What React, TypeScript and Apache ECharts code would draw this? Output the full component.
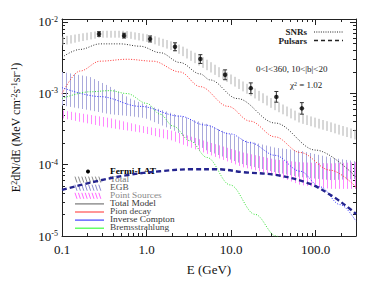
import React, { useEffect, useRef } from "react";
import * as echarts from "echarts";

// ---- Data (E in GeV, E^2 dN/dE in MeV cm^-2 s^-1 sr^-1) ----
const fermiE = [0.274, 0.542, 1.1, 2.17, 4.33, 8.49, 17.1, 34.3, 68.7];
const fermiFlux = [6.78e-3, 6.43e-3, 5.78e-3, 4.49e-3, 3.02e-3, 1.82e-3, 1.18e-3, 8.9e-4, 6.15e-4];
const fermiLo = [6.3e-3, 5.95e-3, 5.25e-3, 3.95e-3, 2.62e-3, 1.55e-3, 9.9e-4, 7.5e-4, 5.1e-4];
const fermiHi = [7.3e-3, 6.95e-3, 6.35e-3, 5.1e-3, 3.48e-3, 2.13e-3, 1.4e-3, 1.06e-3, 7.4e-4];

const totalModelE = [0.1, 0.163, 0.282, 0.486, 0.838, 1.45, 2.49, 4.3, 5.64, 11.8, 33.2, 100, 300];
const totalModelFlux = [3.2e-3, 4.12e-3, 4.93e-3, 4.93e-3, 4.57e-3, 3.71e-3, 2.7e-3, 1.87e-3, 1.54e-3, 8.45e-4, 3.83e-4, 1.6e-4, 6.7e-5];

const pionE = [0.1, 0.163, 0.282, 0.588, 1.19, 2.49, 4.3, 9.21, 16.8, 33.2, 65.6, 149, 300];
const pionFlux = [9.9e-4, 2.05e-3, 2.82e-3, 3.0e-3, 2.82e-3, 1.99e-3, 1.24e-3, 6.56e-4, 4.07e-4, 2.45e-4, 1.48e-4, 8.36e-5, 4.88e-5];

const icE = [0.1, 0.282, 0.838, 2.49, 4.92, 9.73, 16.8, 33.2, 65.6, 113, 195, 300];
const icFlux = [1.2e-3, 8.99e-4, 6.56e-4, 4.78e-4, 3.59e-4, 2.7e-4, 2.03e-4, 1.35e-4, 8.09e-5, 4.88e-5, 2.75e-5, 1.61e-5];

const bremsE = [0.1, 0.214, 0.37, 0.588, 1.01, 1.45, 2.06, 3.27, 5.2, 9.73, 19.2, 34.1, 49.9];
const bremsFlux = [8.45e-4, 1.05e-3, 1.09e-3, 9.91e-4, 7.21e-4, 5.09e-4, 3.47e-4, 2.16e-4, 1.26e-4, 5.2e-5, 2.01e-5, 1.0e-5, 5.65e-6];

const pulsarE = [0.1, 0.233, 0.588, 1.45, 3.55, 6.82, 13.9, 35.0, 86.1, 161, 278, 300];
const pulsarFlux = [4.44e-5, 5.71e-5, 7.13e-5, 8.09e-5, 8.63e-5, 8.63e-5, 7.85e-5, 7.13e-5, 5.36e-5, 3.56e-5, 2.21e-5, 2.01e-5];

const totalBandE = [0.1, 0.163, 0.282, 0.557, 1.1, 2.17, 4.3, 8.49, 16.8, 33.2, 65.6, 149, 300];
const totalBandHi = [6.22e-3, 6.84e-3, 7.52e-3, 7.52e-3, 6.62e-3, 5.14e-3, 3.4e-3, 2.05e-3, 1.28e-3, 7.92e-4, 5.25e-4, 3.94e-4, 3.06e-4];
const totalBandLo = [4.67e-3, 5.31e-3, 6.02e-3, 6.02e-3, 5.14e-3, 3.86e-3, 2.4e-3, 1.5e-3, 9.29e-4, 5.78e-4, 3.83e-4, 2.88e-4, 2.23e-4];

const egbE = [0.1, 0.214, 0.37, 0.638, 0.96, 2.17, 5.2, 13.9, 33.2, 65.6, 149, 300];
const egbHi = [1.99e-3, 1.7e-3, 1.24e-3, 8.45e-4, 6.98e-4, 5.09e-4, 3.71e-4, 2.23e-4, 1.73e-4, 1.57e-4, 1.26e-4, 1.11e-4];
const egbLo = [6.76e-4, 5.78e-4, 5.09e-4, 4.78e-4, 4.49e-4, 2.97e-4, 1.57e-4, 1.01e-4, 7.85e-5, 6.7e-5, 6.08e-5, 6.28e-5];

const psE = [0.1, 0.37, 0.91, 2.06, 5.2, 13.9, 33.2, 65.6, 149, 300];
const psHi = [5.78e-4, 4.49e-4, 3.47e-4, 2.97e-4, 2.1e-4, 1.48e-4, 1.18e-4, 1.08e-4, 1.04e-4, 1.08e-4];
const psLo = [4.49e-4, 3.27e-4, 2.79e-4, 2.16e-4, 1.42e-4, 9.18e-5, 7.13e-5, 5.2e-5, 4.58e-5, 4.58e-5];

const xMajorTicks = [-1, 0, 1, 2];
const yMajorTicks = [-5, -4, -3, -2];

const legendNames = ["Fermi-LAT", "Total", "EGB", "Point Sources", "Total Model", "Pion decay", "Inverse Compton", "Bremsstrahlung"];

const FONT = "Liberation Serif";
const L = Math.log10;

const X_MIN = -1;
const X_MAX = L(300);
const Y_MIN = -5;
const Y_MAX = L(0.011);

function minorTicks(from: number, to: number, lo: number, hi: number) {
  const out: number[] = [];
  for (let n = from; n <= to; n++) {
    for (let k = 2; k <= 9; k++) {
      const v = L(k) + n;
      if (v > lo && v < hi) out.push(v);
    }
  }
  return out;
}

function lineData(E: number[], F: number[]) {
  return E.map((e, i) => [L(e), L(F[i])]);
}

function hatchBand(name: string, E: number[], lo: number[], hi: number[], color: string, spacing: number, offset: number, z: number) {
  return {
    type: "custom",
    name,
    z,
    clip: true,
    silent: true,
    data: E.map((e, i) => [L(e), L(lo[i]), L(hi[i])]),
    encode: { x: 0, y: [1, 2] },
    renderItem: (params: any, api: any) => {
      if (params.dataIndex !== 0) return null;
      const top = E.map((e, i) => api.coord([L(e), L(hi[i])]));
      const bot = E.map((e, i) => api.coord([L(e), L(lo[i])]));
      const children: any[] = [];
      const x0 = top[0][0];
      const x1 = top[top.length - 1][0];
      let j = 0;
      for (let x = x0 + offset; x <= x1; x += spacing) {
        while (j < top.length - 2 && top[j + 1][0] < x) j++;
        const t = (x - top[j][0]) / (top[j + 1][0] - top[j][0]);
        const yt = top[j][1] + t * (top[j + 1][1] - top[j][1]);
        const yb = bot[j][1] + t * (bot[j + 1][1] - bot[j][1]);
        children.push({
          type: "line",
          shape: { x1: x, y1: yt, x2: x, y2: yb },
          style: { stroke: color, lineWidth: 1 },
        });
      }
      return { type: "group", children };
    },
  };
}

function dottedLine(name: string, E: number[], F: number[], color: string) {
  return {
    type: "line",
    name,
    z: 4,
    data: lineData(E, F),
    smooth: 0.35,
    smoothMonotone: "x",
    showSymbol: false,
    silent: true,
    lineStyle: { color, width: 1, type: [1, 1.6] },
  };
}

function axisX(position: string, ticks: number[], len: number, extra: any = {}) {
  return {
    type: "value",
    position,
    min: X_MIN,
    max: X_MAX,
    splitLine: { show: false },
    axisLine: { show: true, onZero: false, lineStyle: { color: "#222", width: 1 } },
    axisTick: { show: true, inside: true, length: len, customValues: ticks, lineStyle: { color: "#222", width: 1 } },
    axisLabel: { show: false },
    ...extra,
  };
}

function axisY(position: string, ticks: number[], len: number, extra: any = {}) {
  return {
    type: "value",
    position,
    min: Y_MIN,
    max: Y_MAX,
    splitLine: { show: false },
    axisLine: { show: true, onZero: false, lineStyle: { color: "#222", width: 1 } },
    axisTick: { show: true, inside: true, length: len, customValues: ticks, lineStyle: { color: "#222", width: 1 } },
    axisLabel: { show: false },
    ...extra,
  };
}

function legendGraphics() {
  const g: any[] = [];
  const rows = [171.5, 179.6, 187.7, 195.8, 203.9, 212, 220.1, 228.2];
  const textColors = ["#000", "#777", "#555", "#888", "#333", "#444", "#333", "#444"];
  legendNames.forEach((n, i) => {
    g.push({
      type: "text",
      x: 110,
      y: rows[i],
      scaleX: 1.3,
      style: {
        text: n,
        fill: textColors[i],
        font: `${i === 0 ? "bold " : ""}7.2px '${FONT}'`,
        verticalAlign: "middle",
      },
    });
  });
  // Fermi dot
  g.push({ type: "circle", shape: { cx: 88, cy: rows[0], r: 2 }, style: { fill: "#000" } });
  const hatchColors = ["#8a8a8a", "#8a8ad0", "#ff66ff"];
  [1, 2, 3].forEach((r, k) => {
    for (let i = 0; i < 8; i++) {
      const x = 75 + i * 3.4;
      g.push({
        type: "line",
        shape: { x1: x, y1: rows[r] - 3, x2: x + 2, y2: rows[r] + 3 },
        style: { stroke: hatchColors[k], lineWidth: 1 },
      });
    }
  });
  const lineColors = ["#777", "#ff5050", "#4040ff", "#40ff40"];
  [4, 5, 6, 7].forEach((r, k) => {
    g.push({
      type: "line",
      shape: { x1: 75, y1: rows[r], x2: 104, y2: rows[r] },
      style: { stroke: lineColors[k], lineWidth: 1.2 },
    });
  });
  // SNRs / Pulsars key
  g.push({ type: "text", x: 307, y: 32, style: { text: "SNRs", font: `bold 9px '${FONT}'`, fill: "#222", align: "right", verticalAlign: "middle" } });
  g.push({ type: "text", x: 307, y: 40.5, style: { text: "Pulsars", font: `bold 9px '${FONT}'`, fill: "#222", align: "right", verticalAlign: "middle" } });
  g.push({ type: "line", shape: { x1: 314, y1: 32, x2: 343, y2: 32 }, style: { stroke: "#222", lineWidth: 1, lineDash: [1, 1.3] } });
  g.push({ type: "line", shape: { x1: 314, y1: 40.5, x2: 343, y2: 40.5 }, style: { stroke: "#222", lineWidth: 1.6, lineDash: [4, 3] } });
  // Region annotation
  g.push({ type: "text", x: 256, y: 69, style: { text: "0<l<360, 10<|b|<20", font: `9px '${FONT}'`, fill: "#222", verticalAlign: "middle" } });
  g.push({
    type: "text",
    x: 290,
    y: 85,
    style: {
      text: "{a|\u03c7}{s|2}{a| = 1.02}",
      verticalAlign: "middle",
      rich: {
        a: { font: `9px '${FONT}'`, fill: "#222" },
        s: { font: `6px '${FONT}'`, fill: "#222", verticalAlign: "top" },
      },
    },
  });
  return g;
}

export default function App() {
  const ref = useRef<HTMLDivElement>(null);
  useEffect(() => {
    if (!ref.current) return;
    const chart = echarts.init(ref.current, null, { renderer: "svg" });
    const xMinor = minorTicks(-1, 2, X_MIN, X_MAX);
    const yMinor = minorTicks(-5, -2, Y_MIN, Y_MAX);
    const option: any = {
      animation: false,
      backgroundColor: "#fff",
      textStyle: { fontFamily: FONT },
      grid: { left: 62, right: 18, top: 19, bottom: 41 },
      xAxis: [
        axisX("bottom", xMajorTicks, 6, {
          name: "E (GeV)",
          nameLocation: "middle",
          nameGap: 27,
          nameTextStyle: { fontFamily: FONT, fontSize: 13, color: "#111" },
          axisLabel: {
            show: true,
            customValues: xMajorTicks,
            margin: 7,
            fontFamily: FONT,
            fontSize: 13,
            color: "#111",
            formatter: (v: number) => Math.pow(10, v).toFixed(1),
          },
        }),
        axisX("bottom", xMinor, 3, { axisLine: { show: false, onZero: false } }),
        axisX("top", xMajorTicks, 6),
        axisX("top", xMinor, 3, { axisLine: { show: false, onZero: false } }),
      ],
      yAxis: [
        axisY("left", yMajorTicks, 6, {
          name: "E{s|2}dN/dE (MeV cm{s|-2}s{s|-1}sr{s|-1})",
          nameLocation: "middle",
          nameGap: 40,
          nameTextStyle: {
            fontFamily: FONT,
            fontSize: 12,
            color: "#111",
            rich: { s: { fontFamily: FONT, fontSize: 8, color: "#111", verticalAlign: "top" } },
          },
          axisLabel: {
            show: true,
            customValues: yMajorTicks,
            margin: 4,
            fontFamily: FONT,
            fontSize: 13,
            color: "#111",
            formatter: (v: number) => `10{s|${v}}`,
            rich: { s: { fontFamily: FONT, fontSize: 8, color: "#111", verticalAlign: "top" } },
          },
        }),
        axisY("left", yMinor, 3, { axisLine: { show: false, onZero: false } }),
        axisY("right", yMajorTicks, 6),
        axisY("right", yMinor, 3, { axisLine: { show: false, onZero: false } }),
      ],
      series: [
        hatchBand("Point Sources", psE, psLo, psHi, "#ff88ff", 4, 1.5, 1),
        hatchBand("EGB", egbE, egbLo, egbHi, "#aaaadc", 4, 0.5, 2),
        hatchBand("Total", totalBandE, totalBandLo, totalBandHi, "#b0b0b0", 4, 1, 3),
        dottedLine("Total Model", totalModelE, totalModelFlux, "#333333"),
        dottedLine("Pion decay", pionE, pionFlux, "#ff3030"),
        dottedLine("Inverse Compton", icE, icFlux, "#3030ff"),
        dottedLine("Bremsstrahlung", bremsE, bremsFlux, "#30e030"),
        {
          type: "line",
          name: "Pulsars",
          z: 5,
          data: lineData(pulsarE, pulsarFlux),
          smooth: 0.35,
          showSymbol: false,
          silent: true,
          lineStyle: { color: "#24248f", width: 2.4, type: [5, 3] },
        },
        {
          type: "custom",
          name: "Fermi-LAT errors",
          z: 6,
          silent: true,
          data: fermiE.map((e, i) => [L(e), L(fermiLo[i]), L(fermiHi[i])]),
          encode: { x: 0, y: [1, 2] },
          renderItem: (params: any, api: any) => {
            const x = api.value(0);
            const a = api.coord([x, api.value(1)]);
            const b = api.coord([x, api.value(2)]);
            const st = { stroke: "#333", lineWidth: 1 };
            return {
              type: "group",
              children: [
                { type: "line", shape: { x1: a[0], y1: a[1], x2: b[0], y2: b[1] }, style: st },
                { type: "line", shape: { x1: a[0] - 2, y1: a[1], x2: a[0] + 2, y2: a[1] }, style: st },
                { type: "line", shape: { x1: b[0] - 2, y1: b[1], x2: b[0] + 2, y2: b[1] }, style: st },
              ],
            };
          },
        },
        {
          type: "scatter",
          name: "Fermi-LAT",
          z: 7,
          data: lineData(fermiE, fermiFlux),
          symbol: "circle",
          symbolSize: 4.5,
          itemStyle: { color: "#000" },
          silent: true,
        },
      ],
      graphic: legendGraphics(),
    };
    chart.setOption(option);
    return () => chart.dispose();
  }, []);
  return (
    <div
      ref={ref}
      style={{ position: "fixed", left: 0, top: 0, width: 374, height: 281, background: "#fff" }}
    />
  );
}
